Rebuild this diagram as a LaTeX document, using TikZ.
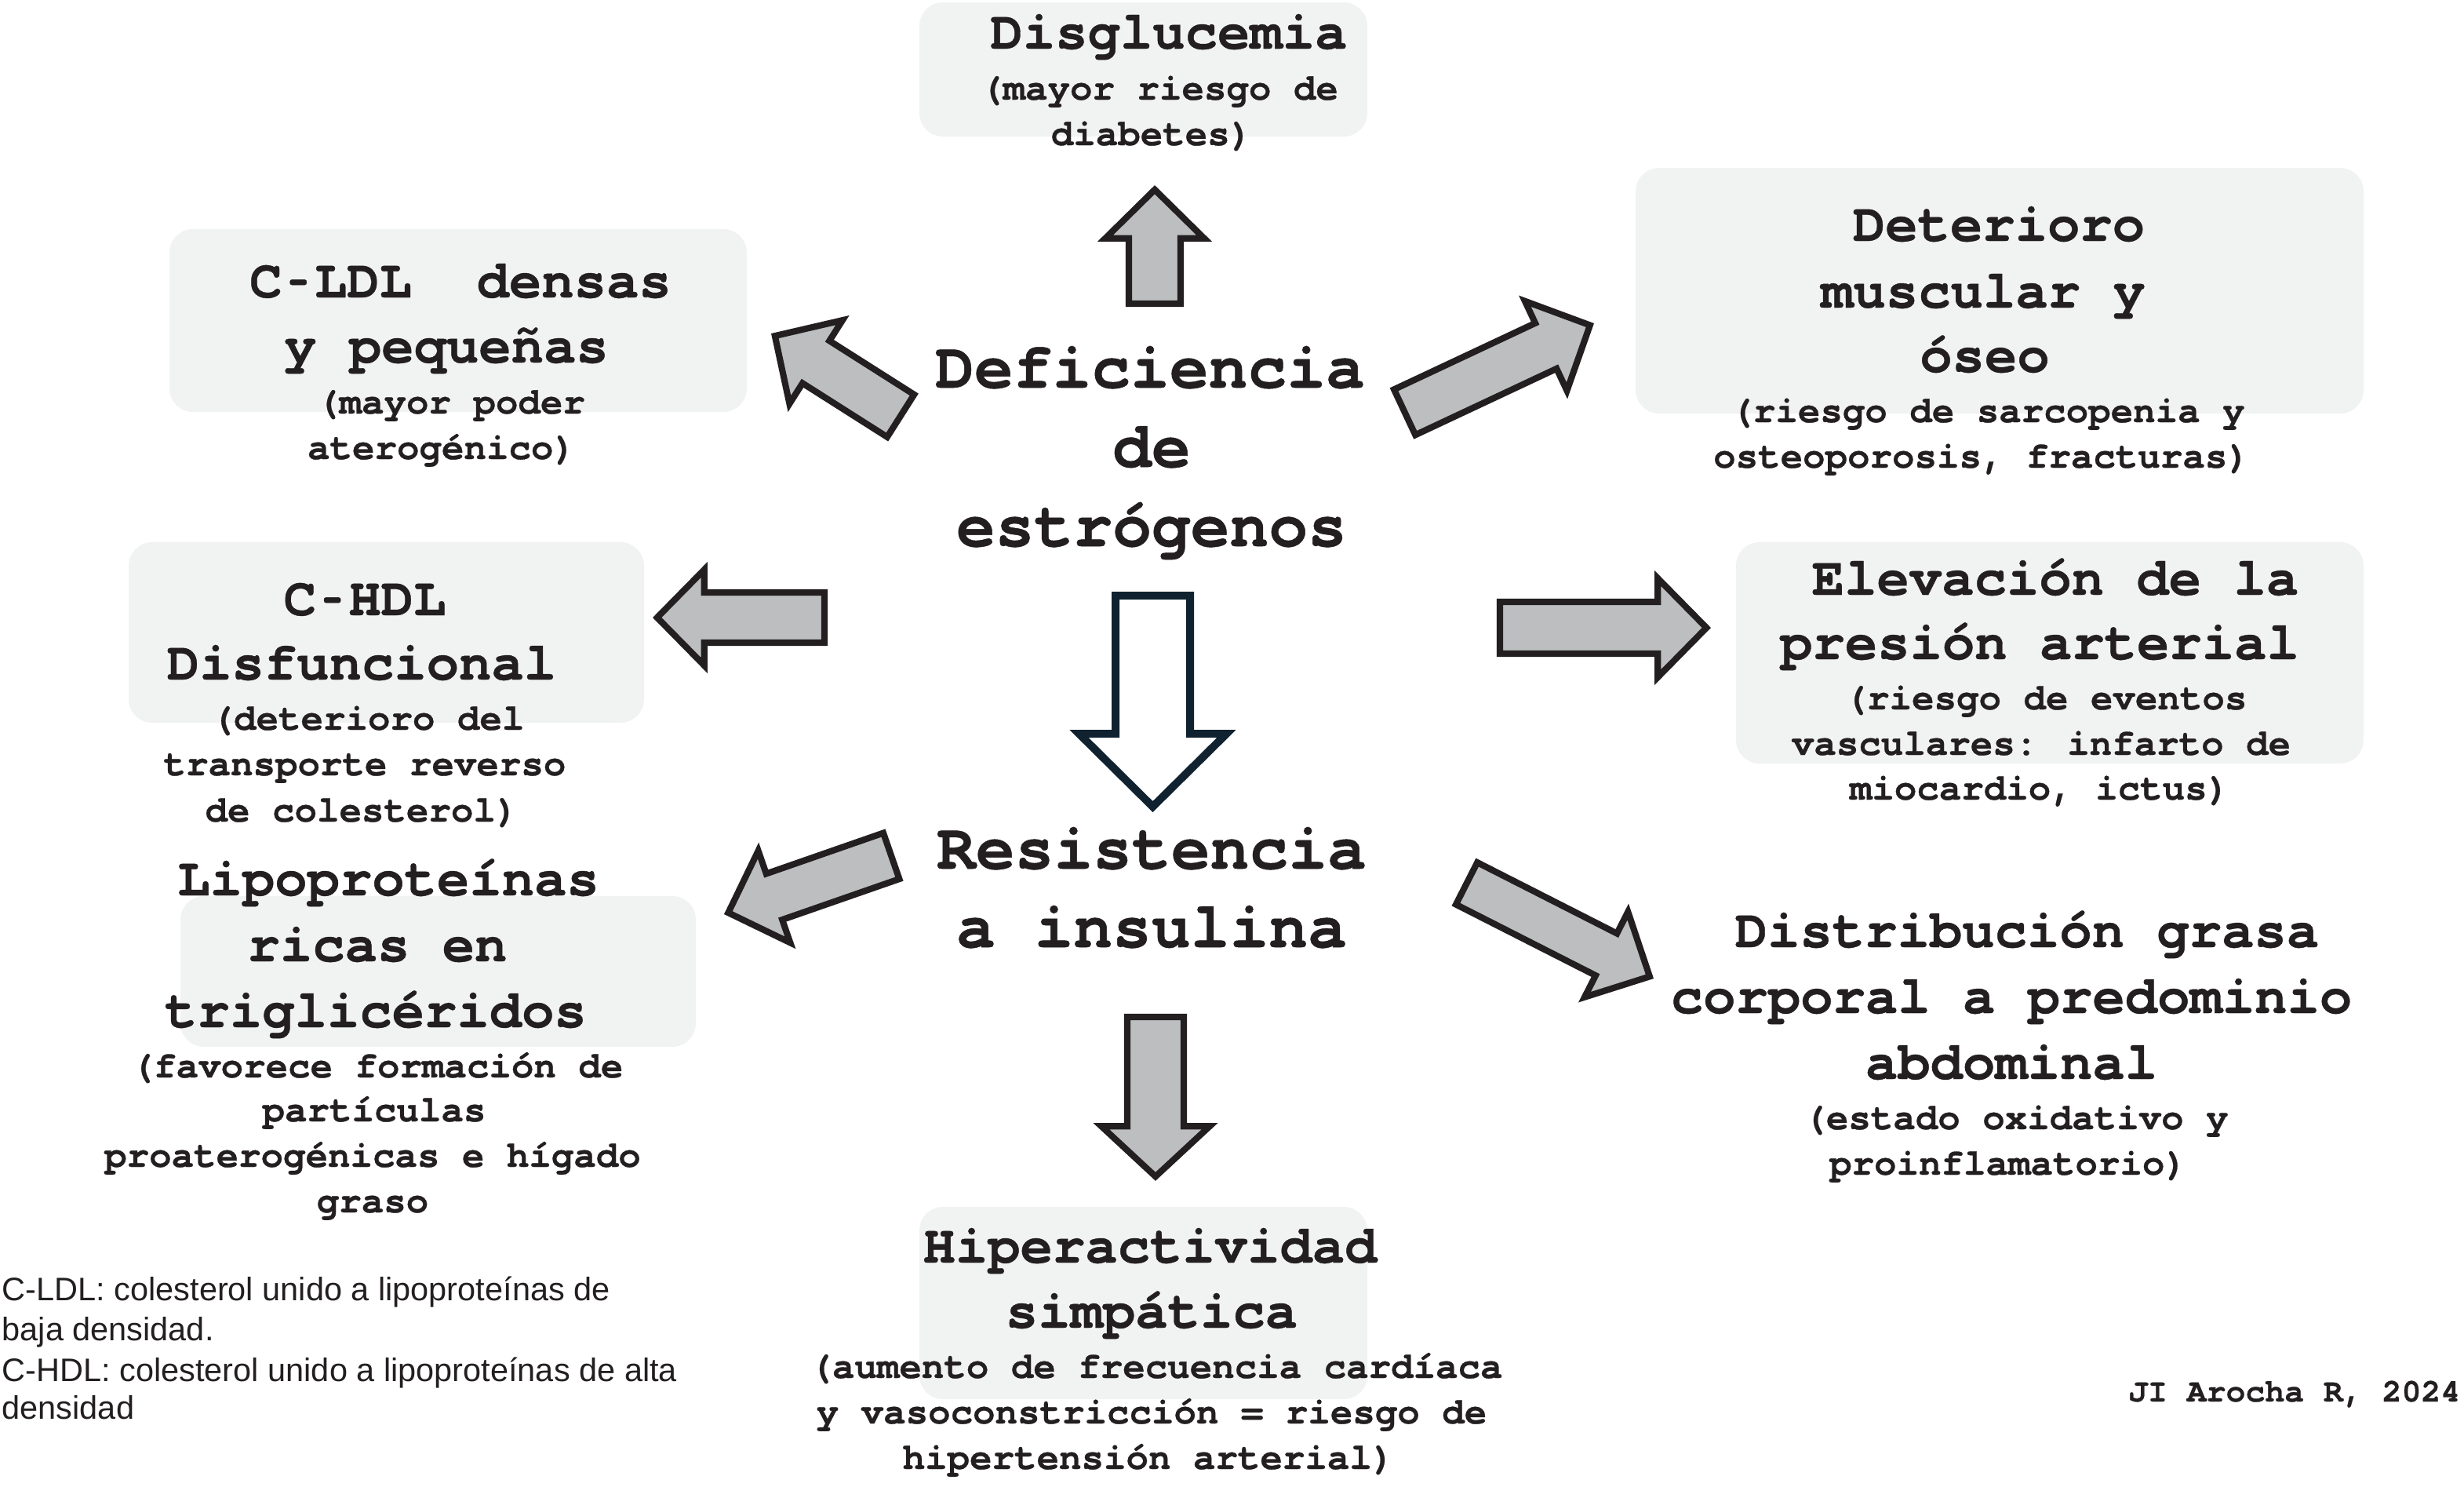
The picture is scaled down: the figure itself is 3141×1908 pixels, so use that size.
\documentclass[tikz,border=0pt]{standalone}
\usepackage{fontspec}
\usepackage{graphicx}
\usetikzlibrary{calc}
\newfontfamily\cour{TeX Gyre Cursor}[Ligatures={NoCommon}, BoldFeatures={FakeBold=0.6}]
\newfontfamily\arialf{Liberation Sans}
\newcommand\shorthy{\makebox[0.6em]{\scalebox{0.6}[1]{-}}}
\definecolor{ink}{HTML}{231F20}
\definecolor{boxfill}{HTML}{F1F2F2}
\definecolor{arrfill}{HTML}{BCBEC0}
\definecolor{navy}{HTML}{10222F}
\tikzset{
  ttl/.style={font=\cour\bfseries\fontsize{19.6pt}{23pt}\selectfont, anchor=base, inner sep=0pt, text=ink},
  bigt/.style={font=\cour\bfseries\fontsize{23.6pt}{28pt}\selectfont, anchor=base, inner sep=0pt, text=ink},
  subt/.style={font=\cour\bfseries\fontsize{13.5pt}{16pt}\selectfont, anchor=base, inner sep=0pt, text=ink},
  auth/.style={font=\cour\bfseries\fontsize{11.8pt}{14pt}\selectfont, anchor=base east, inner sep=0pt, text=ink},
  note/.style={font=\arialf\fontsize{11.8pt}{14pt}\selectfont, anchor=base west, inner sep=0pt, text=ink},
  bgbox/.style={fill=boxfill, rounded corners=0.3cm},
  garrow/.style={draw=ink, fill=arrfill, line width=2.3pt, line join=miter},
  hollow/.style={draw=navy, fill=white, line width=2.85pt, line join=miter}
}
\newcommand\blockarrow[6]{%
  \coordinate (#1T) at #2;
  \coordinate (#1P) at #3;
  \coordinate (#1t) at ($(#1T)!0.04cm!(#1P)$);
  \coordinate (#1p) at ($(#1P)!0.057cm!(#1T)$);
  \coordinate (#1b) at ($(#1p)!#6!(#1t)$);
  \draw[garrow] ($(#1t)!#4!90:(#1p)$) -- ($(#1b)!#4!90:(#1p)$) -- ($(#1b)!#5!90:(#1p)$) -- (#1p)
     -- ($(#1b)!#5!-90:(#1p)$) -- ($(#1b)!#4!-90:(#1p)$) -- ($(#1t)!#4!-90:(#1p)$) -- cycle;
}
\begin{document}
\begin{tikzpicture}[x=0.01cm, y=-0.01cm]
\useasboundingbox[fill=white] (0,0) rectangle (3141,1908);

% background boxes
\path[bgbox] (1172,3) rectangle (1743,174);
\path[bgbox] (216,292) rectangle (952,525);
\path[bgbox] (2085,214) rectangle (3013,527);
\path[bgbox] (164,691) rectangle (821,921);
\path[bgbox] (2213,691) rectangle (3013,973);
\path[bgbox] (230,1142) rectangle (887,1334);
\path[bgbox] (1172,1538) rectangle (1743,1783);

% Disglucemia
\node[ttl] (dis1) at (1490,62) {Disglucemia};
\node[subt] (dis2) at (1478,127) {(mayor riesgo de};
\node[subt] (dis3) at (1468,185) {diabetes)};

% C-LDL
\node[ttl] (ldl1) at (587,379) {C\shorthy LDL~~densas};
\node[ttl] (ldl2) at (569,462) {y pequeñas};
\node[subt] (ldl3) at (575,527) {(mayor poder};
\node[subt] (ldl4) at (563,585) {aterogénico)};

% Deterioro
\node[ttl] (det1) at (2548,307) {Deterioro};
\node[ttl] (det2) at (2528,392) {muscular y};
\node[ttl] (det3) at (2530,474) {óseo};
\node[subt] (det4) at (2534,538) {(riesgo de sarcopenia y};
\node[subt] (det5) at (2526,596) {osteoporosis, fracturas)};

% centre
\node[bigt] (def1) at (1466,494) {Deficiencia};
\node[bigt] (def2) at (1468,595) {de};
\node[bigt] (def3) at (1468,696) {estrógenos};
\node[bigt] (res1) at (1468,1107) {Resistencia};
\node[bigt] (res2) at (1468,1207) {a insulina};

% C-HDL
\node[ttl] (hdl1) at (465,784) {C\shorthy HDL};
\node[ttl] (hdl2) at (461,866) {Disfuncional};
\node[subt] (hdl3) at (469,930) {(deterioro del};
\node[subt] (hdl4) at (465,988) {transporte reverso};
\node[subt] (hdl5) at (461,1047) {de colesterol)};

% Elevacion
\node[ttl] (ele1) at (2620,758) {Elevación de la};
\node[ttl] (ele2) at (2600,840) {presión arterial};
\node[subt] (ele3) at (2608,904) {(riesgo de eventos};
\node[subt] (ele4) at (2602,962) {vasculares: infarto de};
\node[subt] (ele5) at (2600,1019) {miocardio, ictus)};

% Lipoproteinas
\node[ttl] (lip1) at (495,1141) {Lipoproteínas};
\node[ttl] (lip2) at (481,1225) {ricas en};
\node[ttl] (lip3) at (479,1309) {triglicéridos};
\node[subt] (lip4) at (481,1373) {(favorece formación de};
\node[subt] (lip5) at (477,1429) {partículas};
\node[subt] (lip6) at (475,1487) {proaterogénicas e hígado};
\node[subt] (lip7) at (475,1545) {graso};

% Distribucion
\node[ttl] (dst1) at (2584,1207) {Distribución grasa};
\node[ttl] (dst2) at (2564,1291) {corporal a predominio};
\node[ttl] (dst3) at (2564,1375) {abdominal};
\node[subt] (dst4) at (2570,1439) {(estado oxidativo y};
\node[subt] (dst5) at (2560,1497) {proinflamatorio)};

% Hiperactividad
\node[ttl] (hip1) at (1466,1609) {Hiperactividad};
\node[ttl] (hip2) at (1468,1692) {simpática};
\node[subt] (hip3) at (1474,1756) {(aumento de frecuencia cardíaca};
\node[subt] (hip4) at (1468,1814) {y vasoconstricción = riesgo de};
\node[subt] (hip5) at (1464,1872) {hipertensión arterial)};

% author and notes
\node[auth] (author) at (3137,1786) {JI Arocha R, 2024};
\node[note] (n1) at (2,1657) {C-LDL: colesterol unido a lipoproteínas de};
\node[note] (n2) at (2,1708) {baja densidad.};
\node[note] (n3) at (2,1760) {C-HDL: colesterol unido a lipoproteínas de alta};
\node[note] (n4) at (2,1808) {densidad};

% block arrows
\blockarrow{up}{(1472,391)}{(1472,236)}{0.33cm}{0.63cm}{0.62cm}
\blockarrow{nw}{(1151.5,532)}{(983,425)}{0.32cm}{0.63cm}{0.62cm}
\blockarrow{ne}{(1787,527)}{(2032,412)}{0.32cm}{0.63cm}{0.62cm}
\blockarrow{w}{(1055,787)}{(832,787)}{0.32cm}{0.61cm}{0.60cm}
\blockarrow{e}{(1908,800)}{(2181,800)}{0.33cm}{0.63cm}{0.62cm}
\blockarrow{sw}{(1140,1089.5)}{(923,1165)}{0.31cm}{0.62cm}{0.62cm}
\blockarrow{se}{(1866,1124)}{(2108,1247)}{0.30cm}{0.61cm}{0.62cm}
\blockarrow{dn}{(1473,1292)}{(1473,1505)}{0.36cm}{0.69cm}{0.64cm}

% hollow arrow
\draw[hollow] (1422,759) -- (1517,759) -- (1517,935) -- (1563.5,935) -- (1469.5,1028)
  -- (1375.5,935) -- (1422,935) -- cycle;
\end{tikzpicture}
\end{document}
